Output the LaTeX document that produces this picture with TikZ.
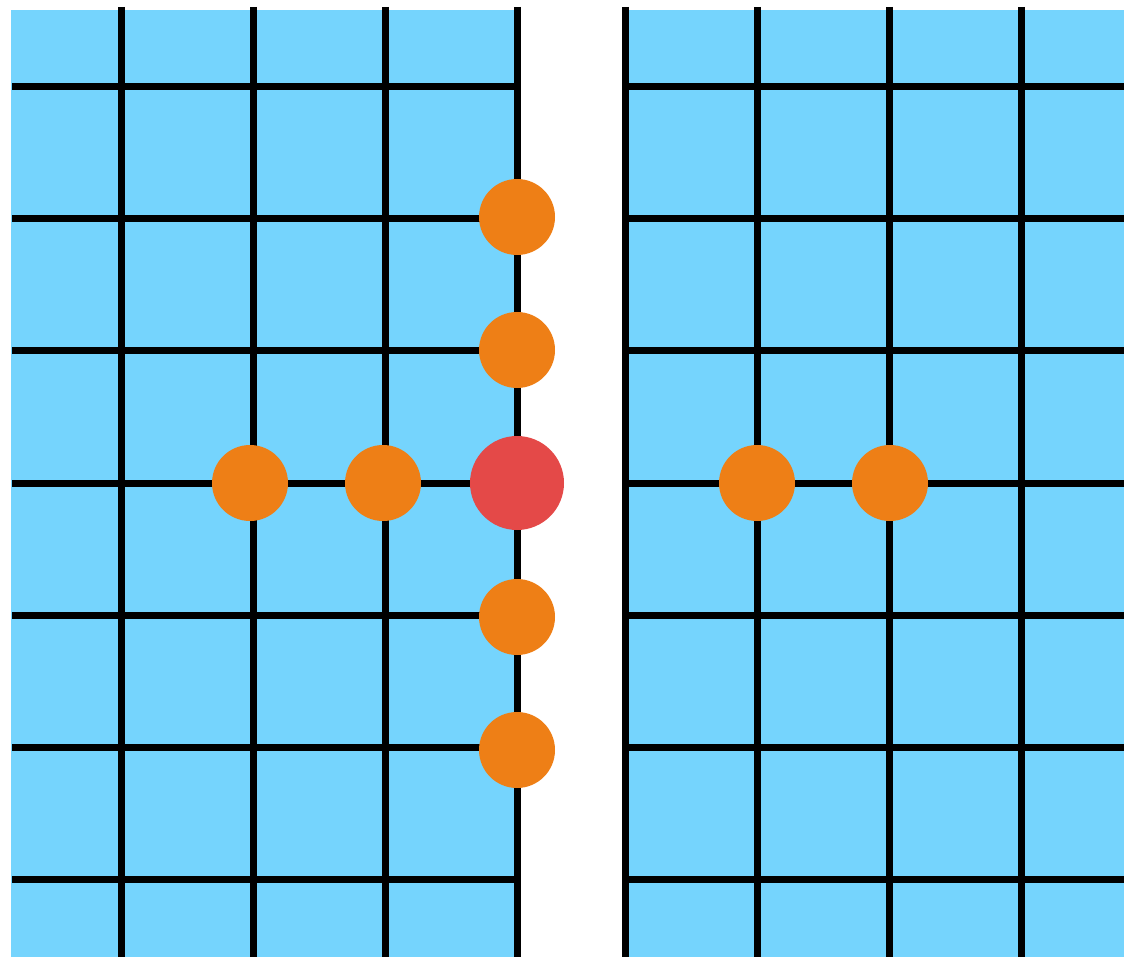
\documentclass[tikz,border=0pt]{standalone}
\usepackage{xcolor}
\definecolor{gridblue}{RGB}{117,212,253}
\definecolor{dotorange}{RGB}{238,127,22}
\definecolor{dotred}{RGB}{228,73,72}

\begin{document}
\begin{tikzpicture}[x=1pt, y=-1pt,
gridline/.style={black, line width=7pt},
dot/.style={circle, fill=dotorange, minimum size=76pt, inner sep=0pt},
bigdot/.style={circle, fill=dotred, minimum size=94pt, inner sep=0pt}]
\useasboundingbox (0,0) rectangle (1124,957);
% panels
\fill[gridblue] (11,10) rectangle (517,957);
\fill[gridblue] (625,10) rectangle (1124,957);
% grid lines
\foreach \y in {87,219,351,483,615,747,879} {
  \draw[gridline] (12,\y) -- (517,\y);
  \draw[gridline] (625,\y) -- (1124,\y);
}
\foreach \x in {121,253,385,517,625,757,889,1021}
  \draw[gridline] (\x,7) -- (\x,957);
% dots
\node[bigdot] (c) at (517,483) {};
\node[dot] (u1) at (517,217) {};
\node[dot] (u2) at (517,350) {};
\node[dot] (d1) at (517,617) {};
\node[dot] (d2) at (517,750) {};
\node[dot] (l1) at (250,483) {};
\node[dot] (l2) at (383,483) {};
\node[dot] (r1) at (757,483) {};
\node[dot] (r2) at (890,483) {};
\end{tikzpicture}
\end{document}
